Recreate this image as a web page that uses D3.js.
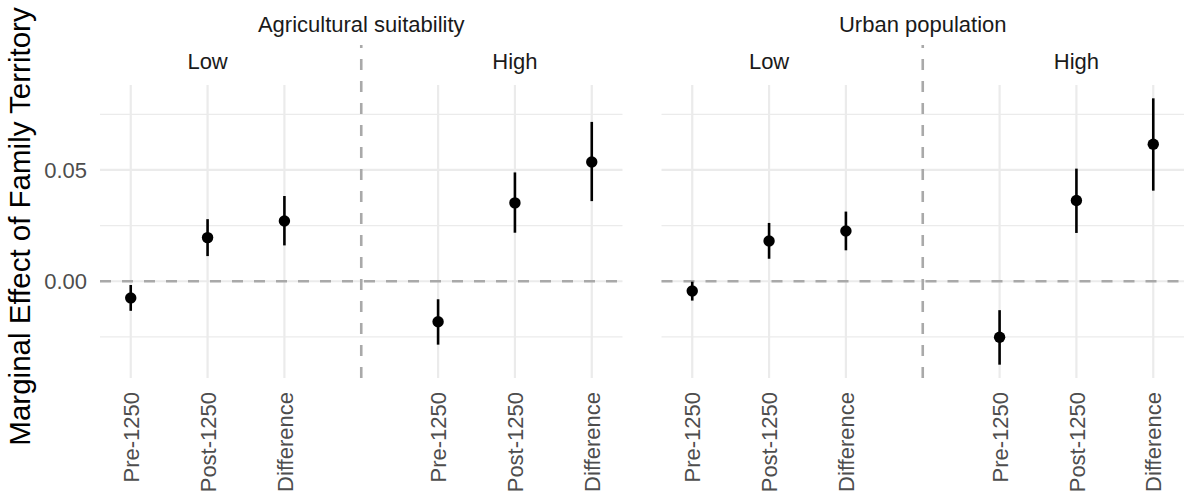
<!DOCTYPE html>
<html>
<head>
<meta charset="utf-8">
<script src="https://cdn.jsdelivr.net/npm/d3@7"></script>
<style>
  html, body { margin: 0; padding: 0; background: #fff; }
  svg { display: block; font-family: "Liberation Sans", Arial, Helvetica, sans-serif; }
</style>
</head>
<body>
<svg id="chart" width="1184" height="492"></svg>
<script>
// Facets, groups and periods
const panels = ["Agricultural suitability", "Urban population"];
const groups = ["Low", "High"];
const periods = ["Pre-1250", "Post-1250", "Difference"];

// Estimates with confidence bounds, ordered Low (Pre, Post, Diff) then High (Pre, Post, Diff)
const agriEstimate = [-0.0075, 0.0196, 0.0271, -0.0182, 0.0352, 0.0536];
const agriLower    = [-0.0133, 0.0113, 0.0161, -0.0285, 0.0218, 0.0360];
const agriUpper    = [-0.0017, 0.0279, 0.0383, -0.0081, 0.0489, 0.0716];

const urbanEstimate = [-0.0044, 0.0181, 0.0226, -0.0252, 0.0363, 0.0616];
const urbanLower    = [-0.0087, 0.0101, 0.0139, -0.0375, 0.0217, 0.0407];
const urbanUpper    = [-0.0002, 0.0262, 0.0313, -0.0130, 0.0506, 0.0822];

// Axis breaks
const yMajorTicks = [0, 0.05];
const yMinorTicks = [-0.025, 0.025, 0.075];
const yTickLabels = ["0.00", "0.05"];

const yTitle = "Marginal Effect of Family Territory";

// Build tidy rows per facet
const series = [
  { panel: panels[0], est: agriEstimate, lo: agriLower, hi: agriUpper },
  { panel: panels[1], est: urbanEstimate, lo: urbanLower, hi: urbanUpper }
];
const rows = [];
series.forEach(s => {
  groups.forEach((g, gi) => {
    periods.forEach((p, pi) => {
      const i = gi * periods.length + pi;
      rows.push({ panel: s.panel, group: g, period: p, key: g + "|" + p,
                  est: s.est[i], lo: s.lo[i], hi: s.hi[i] });
    });
  });
});

// Layout
const W = 1184, H = 492;
const margin = { top: 85, bottom: 114, left: 100, right: 0 };
const panelGap = 39;
const panelW = (W - margin.left - margin.right - panelGap) / 2;
const plotBottom = H - margin.bottom;

const svg = d3.select("#chart");

// x slots: Low periods, a spacer, High periods
const SPACER = "spacer";
const xDomain = [];
groups.forEach((g, gi) => {
  if (gi > 0) xDomain.push(SPACER);
  periods.forEach(p => xDomain.push(g + "|" + p));
});

// y scale with 5% expansion of the data range
const yMin = d3.min(rows, d => d.lo), yMax = d3.max(rows, d => d.hi);
const pad = (yMax - yMin) * 0.05;
const y = d3.scaleLinear().domain([yMin - pad, yMax + pad]).range([plotBottom, margin.top]);

const gridColor = "#EBEBEB";
const refColor = "#A9A9A9";
const tickTextColor = "#4D4D4D";
const tickFont = "22px";
const stripFont = "22px";

panels.forEach((panel, pIdx) => {
  const x0 = margin.left + pIdx * (panelW + panelGap);
  const x = d3.scalePoint().domain(xDomain).range([x0, x0 + panelW]).padding(0.4);
  const g = svg.append("g");

  // minor horizontal grid
  g.selectAll("line.ymin").data(yMinorTicks).join("line")
    .attr("x1", x0).attr("x2", x0 + panelW)
    .attr("y1", d => y(d)).attr("y2", d => y(d))
    .attr("stroke", gridColor).attr("stroke-width", 1.1);

  // major horizontal grid
  g.selectAll("line.ymaj").data(yMajorTicks).join("line")
    .attr("x1", x0).attr("x2", x0 + panelW)
    .attr("y1", d => y(d)).attr("y2", d => y(d))
    .attr("stroke", gridColor).attr("stroke-width", 2.2);

  // vertical grid at each category
  const cats = xDomain.filter(k => k !== SPACER);
  g.selectAll("line.xmaj").data(cats).join("line")
    .attr("x1", d => x(d)).attr("x2", d => x(d))
    .attr("y1", margin.top).attr("y2", plotBottom)
    .attr("stroke", gridColor).attr("stroke-width", 2.2);

  // zero reference line
  g.append("line")
    .attr("x1", x0).attr("x2", x0 + panelW)
    .attr("y1", y(0)).attr("y2", y(0))
    .attr("stroke", refColor).attr("stroke-width", 2.6)
    .attr("stroke-dasharray", "11,11");

  // separator between Low and High, reaching into the group strip
  g.append("line")
    .attr("x1", x(SPACER)).attr("x2", x(SPACER))
    .attr("y1", plotBottom).attr("y2", 45)
    .attr("stroke", refColor).attr("stroke-width", 2.6)
    .attr("stroke-dasharray", "11,11");

  const pr = rows.filter(r => r.panel === panel);

  // confidence intervals
  g.selectAll("line.ci").data(pr).join("line")
    .attr("x1", d => x(d.key)).attr("x2", d => x(d.key))
    .attr("y1", d => y(d.lo)).attr("y2", d => y(d.hi))
    .attr("stroke", "#000").attr("stroke-width", 2.6);

  // point estimates
  g.selectAll("circle").data(pr).join("circle")
    .attr("cx", d => x(d.key)).attr("cy", d => y(d.est))
    .attr("r", 5.7).attr("fill", "#000");

  // facet strip
  g.append("text")
    .attr("x", x0 + panelW / 2).attr("y", 24)
    .attr("text-anchor", "middle").attr("dominant-baseline", "central")
    .attr("fill", "#1A1A1A").style("font-size", stripFont)
    .text(panel);

  // group strips, centred over each group's middle period
  groups.forEach(gr => {
    g.append("text")
      .attr("x", x(gr + "|" + periods[1])).attr("y", 61)
      .attr("text-anchor", "middle").attr("dominant-baseline", "central")
      .attr("fill", "#1A1A1A").style("font-size", stripFont)
      .text(gr);
  });

  // x tick labels (rotated)
  const xAxis = d3.axisBottom(x).tickValues(cats).tickSize(0).tickPadding(0)
    .tickFormat(k => k.split("|")[1]);
  const ax = g.append("g").attr("transform", `translate(0,${plotBottom})`).call(xAxis);
  ax.select(".domain").remove();
  ax.selectAll("text")
    .attr("transform", "translate(0,14) rotate(-90)")
    .attr("x", 0).attr("y", 0).attr("dy", "0.35em")
    .attr("text-anchor", "end")
    .attr("fill", tickTextColor)
    .style("font-size", tickFont).style("font-family", "inherit");
});

// y axis labels
const yAxis = d3.axisLeft(y).tickValues(yMajorTicks).tickSize(0).tickPadding(13)
  .tickFormat((d, i) => yTickLabels[i]);
const yAx = svg.append("g").attr("transform", `translate(${margin.left},0)`).call(yAxis);
yAx.select(".domain").remove();
yAx.selectAll("text").attr("fill", tickTextColor)
  .style("font-size", tickFont).style("font-family", "inherit");

// y axis title
svg.append("text")
  .attr("transform", `translate(19,${(margin.top + plotBottom) / 2 - 5}) rotate(-90)`)
  .attr("text-anchor", "middle").attr("dominant-baseline", "central")
  .attr("fill", "#000").style("font-size", "29.5px")
  .text(yTitle);
</script>
</body>
</html>
